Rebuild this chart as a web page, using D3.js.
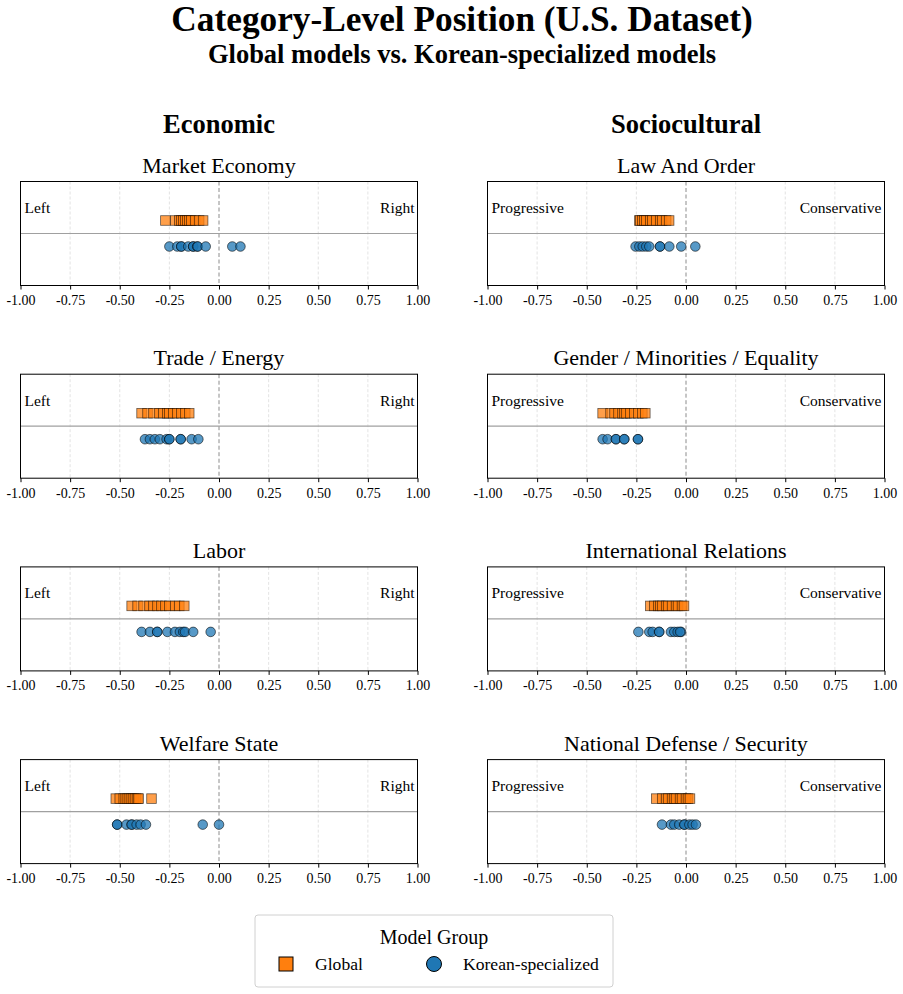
<!DOCTYPE html>
<html>
<head>
<meta charset="utf-8">
<script src="https://cdn.jsdelivr.net/npm/d3@7"></script>
<style>
  body { margin: 0; background: #fff; }
  svg { font-family: "Liberation Serif", "Times New Roman", serif; }
</style>
</head>
<body>
<svg id="chart" width="903" height="994"></svg>
<script>
// Category data
const economicCategories = ["Market Economy", "Trade / Energy", "Labor", "Welfare State"];
const socioculturalCategories = ["Law And Order", "Gender / Minorities / Equality", "International Relations", "National Defense / Security"];
const groups = ["Global", "Korean-specialized"];
const xTicks = [-1, -0.75, -0.5, -0.25, 0, 0.25, 0.5, 0.75, 1];

const marketEconomyGlobal = [-0.27, -0.22, -0.2, -0.19, -0.18, -0.17, -0.16, -0.15, -0.14, -0.12, -0.1, -0.08];
const marketEconomyKorean = [-0.25, -0.21, -0.19, -0.19, -0.155, -0.13, -0.13, -0.11, -0.107, -0.067, 0.067, 0.108];
const tradeEnergyGlobal = [-0.39, -0.36, -0.33, -0.3, -0.28, -0.26, -0.25, -0.23, -0.21, -0.19, -0.17, -0.15];
const tradeEnergyKorean = [-0.373, -0.348, -0.323, -0.298, -0.264, -0.251, -0.25, -0.193, -0.193, -0.138, -0.104];
const laborGlobal = [-0.44, -0.41, -0.38, -0.35, -0.33, -0.31, -0.29, -0.27, -0.25, -0.22, -0.2, -0.175];
const laborKorean = [-0.39, -0.348, -0.311, -0.311, -0.26, -0.222, -0.197, -0.18, -0.171, -0.13, -0.042];
const welfareGlobal = [-0.52, -0.5, -0.48, -0.47, -0.46, -0.45, -0.44, -0.43, -0.42, -0.41, -0.405, -0.34];
const welfareKorean = [-0.513, -0.513, -0.466, -0.44, -0.44, -0.415, -0.395, -0.368, -0.082, 0.0];

const lawOrderGlobal = [-0.235, -0.23, -0.22, -0.21, -0.2, -0.18, -0.17, -0.15, -0.13, -0.12, -0.1, -0.085];
const lawOrderKorean = [-0.254, -0.235, -0.218, -0.2, -0.185, -0.131, -0.131, -0.084, -0.024, 0.047];
const genderGlobal = [-0.42, -0.38, -0.36, -0.34, -0.32, -0.31, -0.3, -0.28, -0.26, -0.24, -0.22, -0.205];
const genderKorean = [-0.42, -0.395, -0.353, -0.353, -0.311, -0.311, -0.242, -0.242];
const internationalGlobal = [-0.18, -0.16, -0.14, -0.13, -0.12, -0.1, -0.09, -0.07, -0.05, -0.04, -0.02, -0.01];
const internationalKorean = [-0.24, -0.185, -0.168, -0.135, -0.135, -0.076, -0.059, -0.042, -0.025, -0.03];
const defenseGlobal = [-0.15, -0.12, -0.1, -0.09, -0.07, -0.06, -0.05, -0.03, -0.02, 0.0, 0.01, 0.02];
const defenseKorean = [-0.121, -0.076, -0.059, -0.034, -0.008, -0.008, 0.017, 0.033, 0.05];

const economicValues = [
  [marketEconomyGlobal, marketEconomyKorean],
  [tradeEnergyGlobal, tradeEnergyKorean],
  [laborGlobal, laborKorean],
  [welfareGlobal, welfareKorean]
];
const socioculturalValues = [
  [lawOrderGlobal, lawOrderKorean],
  [genderGlobal, genderKorean],
  [internationalGlobal, internationalKorean],
  [defenseGlobal, defenseKorean]
];

const svg = d3.select("#chart");
const orange = "#ff7f0e";
const blue = "#1f77b4";
const fmt = d => d3.format(".2f")(d).replace("\u2212", "-");

// Titles
svg.append("text").attr("x", 462).attr("y", 31).attr("text-anchor", "middle")
  .attr("font-size", 35.3).attr("font-weight", "bold").text("Category-Level Position (U.S. Dataset)");
svg.append("text").attr("x", 462).attr("y", 63).attr("text-anchor", "middle")
  .attr("font-size", 26.5).attr("font-weight", "bold").text("Global models vs. Korean-specialized models");

const columns = [
  { heading: "Economic", cats: economicCategories, vals: economicValues, left: 20.5, lo: "Left", hi: "Right" },
  { heading: "Sociocultural", cats: socioculturalCategories, vals: socioculturalValues, left: 487.5, lo: "Progressive", hi: "Conservative" }
];
const panelW = 397, panelH = 104, rowTop = 181.5, rowStep = 192.7;

columns.forEach(col => {
  svg.append("text").attr("x", col.left + panelW / 2).attr("y", 133).attr("text-anchor", "middle")
    .attr("font-size", 26.5).attr("font-weight", "bold").text(col.heading);

  col.cats.forEach((cat, i) => {
    const top = rowTop + i * rowStep;
    const g = svg.append("g").attr("transform", `translate(${col.left},${top})`);
    const x = d3.scaleLinear().domain([-1, 1]).range([0, panelW]);
    const y = d3.scaleLinear().domain([-1, 1]).range([panelH, 0]);

    // grid
    g.selectAll(".grid").data(xTicks.filter(t => t !== 0)).enter().append("line")
      .attr("x1", d => x(d)).attr("x2", d => x(d)).attr("y1", 0).attr("y2", panelH)
      .attr("stroke", "#dcdcdc").attr("stroke-width", 0.8).attr("stroke-dasharray", "3,2");
    g.append("line").attr("x1", x(0)).attr("x2", x(0)).attr("y1", 0).attr("y2", panelH)
      .attr("stroke", "#8c8c8c").attr("stroke-width", 1).attr("stroke-dasharray", "4,2.5");
    g.append("line").attr("x1", 0).attr("x2", panelW).attr("y1", y(0)).attr("y2", y(0))
      .attr("stroke", "#a0a0a0").attr("stroke-width", 1.2);

    // side labels
    g.append("text").attr("x", 4).attr("y", y(0.5)).attr("dy", "0.35em")
      .attr("font-size", 15.5).text(col.lo);
    g.append("text").attr("x", panelW - 3).attr("y", y(0.5)).attr("dy", "0.35em")
      .attr("text-anchor", "end").attr("font-size", 15.5).text(col.hi);

    const [gv, kv] = col.vals[i];
    const s = 9.6;
    g.selectAll(".sq").data(gv).enter().append("rect")
      .attr("x", d => x(d) - s / 2).attr("y", y(0.25) - s / 2)
      .attr("width", s).attr("height", s)
      .attr("fill", orange).attr("fill-opacity", 0.75)
      .attr("stroke", "#000").attr("stroke-opacity", 0.6).attr("stroke-width", 0.8);
    g.selectAll(".ci").data(kv).enter().append("circle")
      .attr("cx", d => x(d)).attr("cy", y(-0.25)).attr("r", 4.8)
      .attr("fill", blue).attr("fill-opacity", 0.75)
      .attr("stroke", "#000").attr("stroke-opacity", 0.7).attr("stroke-width", 0.8);

    // frame
    g.append("rect").attr("width", panelW).attr("height", panelH)
      .attr("fill", "none").attr("stroke", "#000").attr("stroke-width", 1);

    // axis
    const axis = g.append("g").attr("transform", `translate(0,${panelH})`)
      .call(d3.axisBottom(x).tickValues(xTicks).tickFormat(fmt).tickSizeOuter(0).tickSize(4));
    axis.select(".domain").remove();
    axis.selectAll("text").attr("font-size", 14).attr("font-family", "Liberation Serif").attr("fill", "#000").attr("dy", "0.9em");
    axis.selectAll("line").attr("stroke", "#000");

    // panel title
    g.append("text").attr("x", panelW / 2).attr("y", -9).attr("text-anchor", "middle")
      .attr("font-size", 22).text(cat);
  });
});

// Legend
const legend = svg.append("g").attr("transform", "translate(255,915)");
legend.append("rect").attr("width", 358).attr("height", 72).attr("rx", 3)
  .attr("fill", "#fff").attr("stroke", "#d0d0d0").attr("stroke-width", 1);
legend.append("text").attr("x", 179).attr("y", 29).attr("text-anchor", "middle")
  .attr("font-size", 20).text("Model Group");
const items = legend.selectAll(".item").data(groups).enter().append("g")
  .attr("transform", (d, i) => `translate(${i === 0 ? 31 : 179},49)`);
items.each(function(d, i) {
  const it = d3.select(this);
  if (i === 0) {
    it.append("rect").attr("x", -7).attr("y", -7).attr("width", 14).attr("height", 14)
      .attr("fill", orange).attr("stroke", "#000").attr("stroke-width", 1);
  } else {
    it.append("circle").attr("r", 7.5).attr("fill", blue).attr("stroke", "#000").attr("stroke-width", 1);
  }
  it.append("text").attr("x", 29).attr("dy", "0.35em").attr("font-size", 17.6).text(d);
});
</script>
</body>
</html>
